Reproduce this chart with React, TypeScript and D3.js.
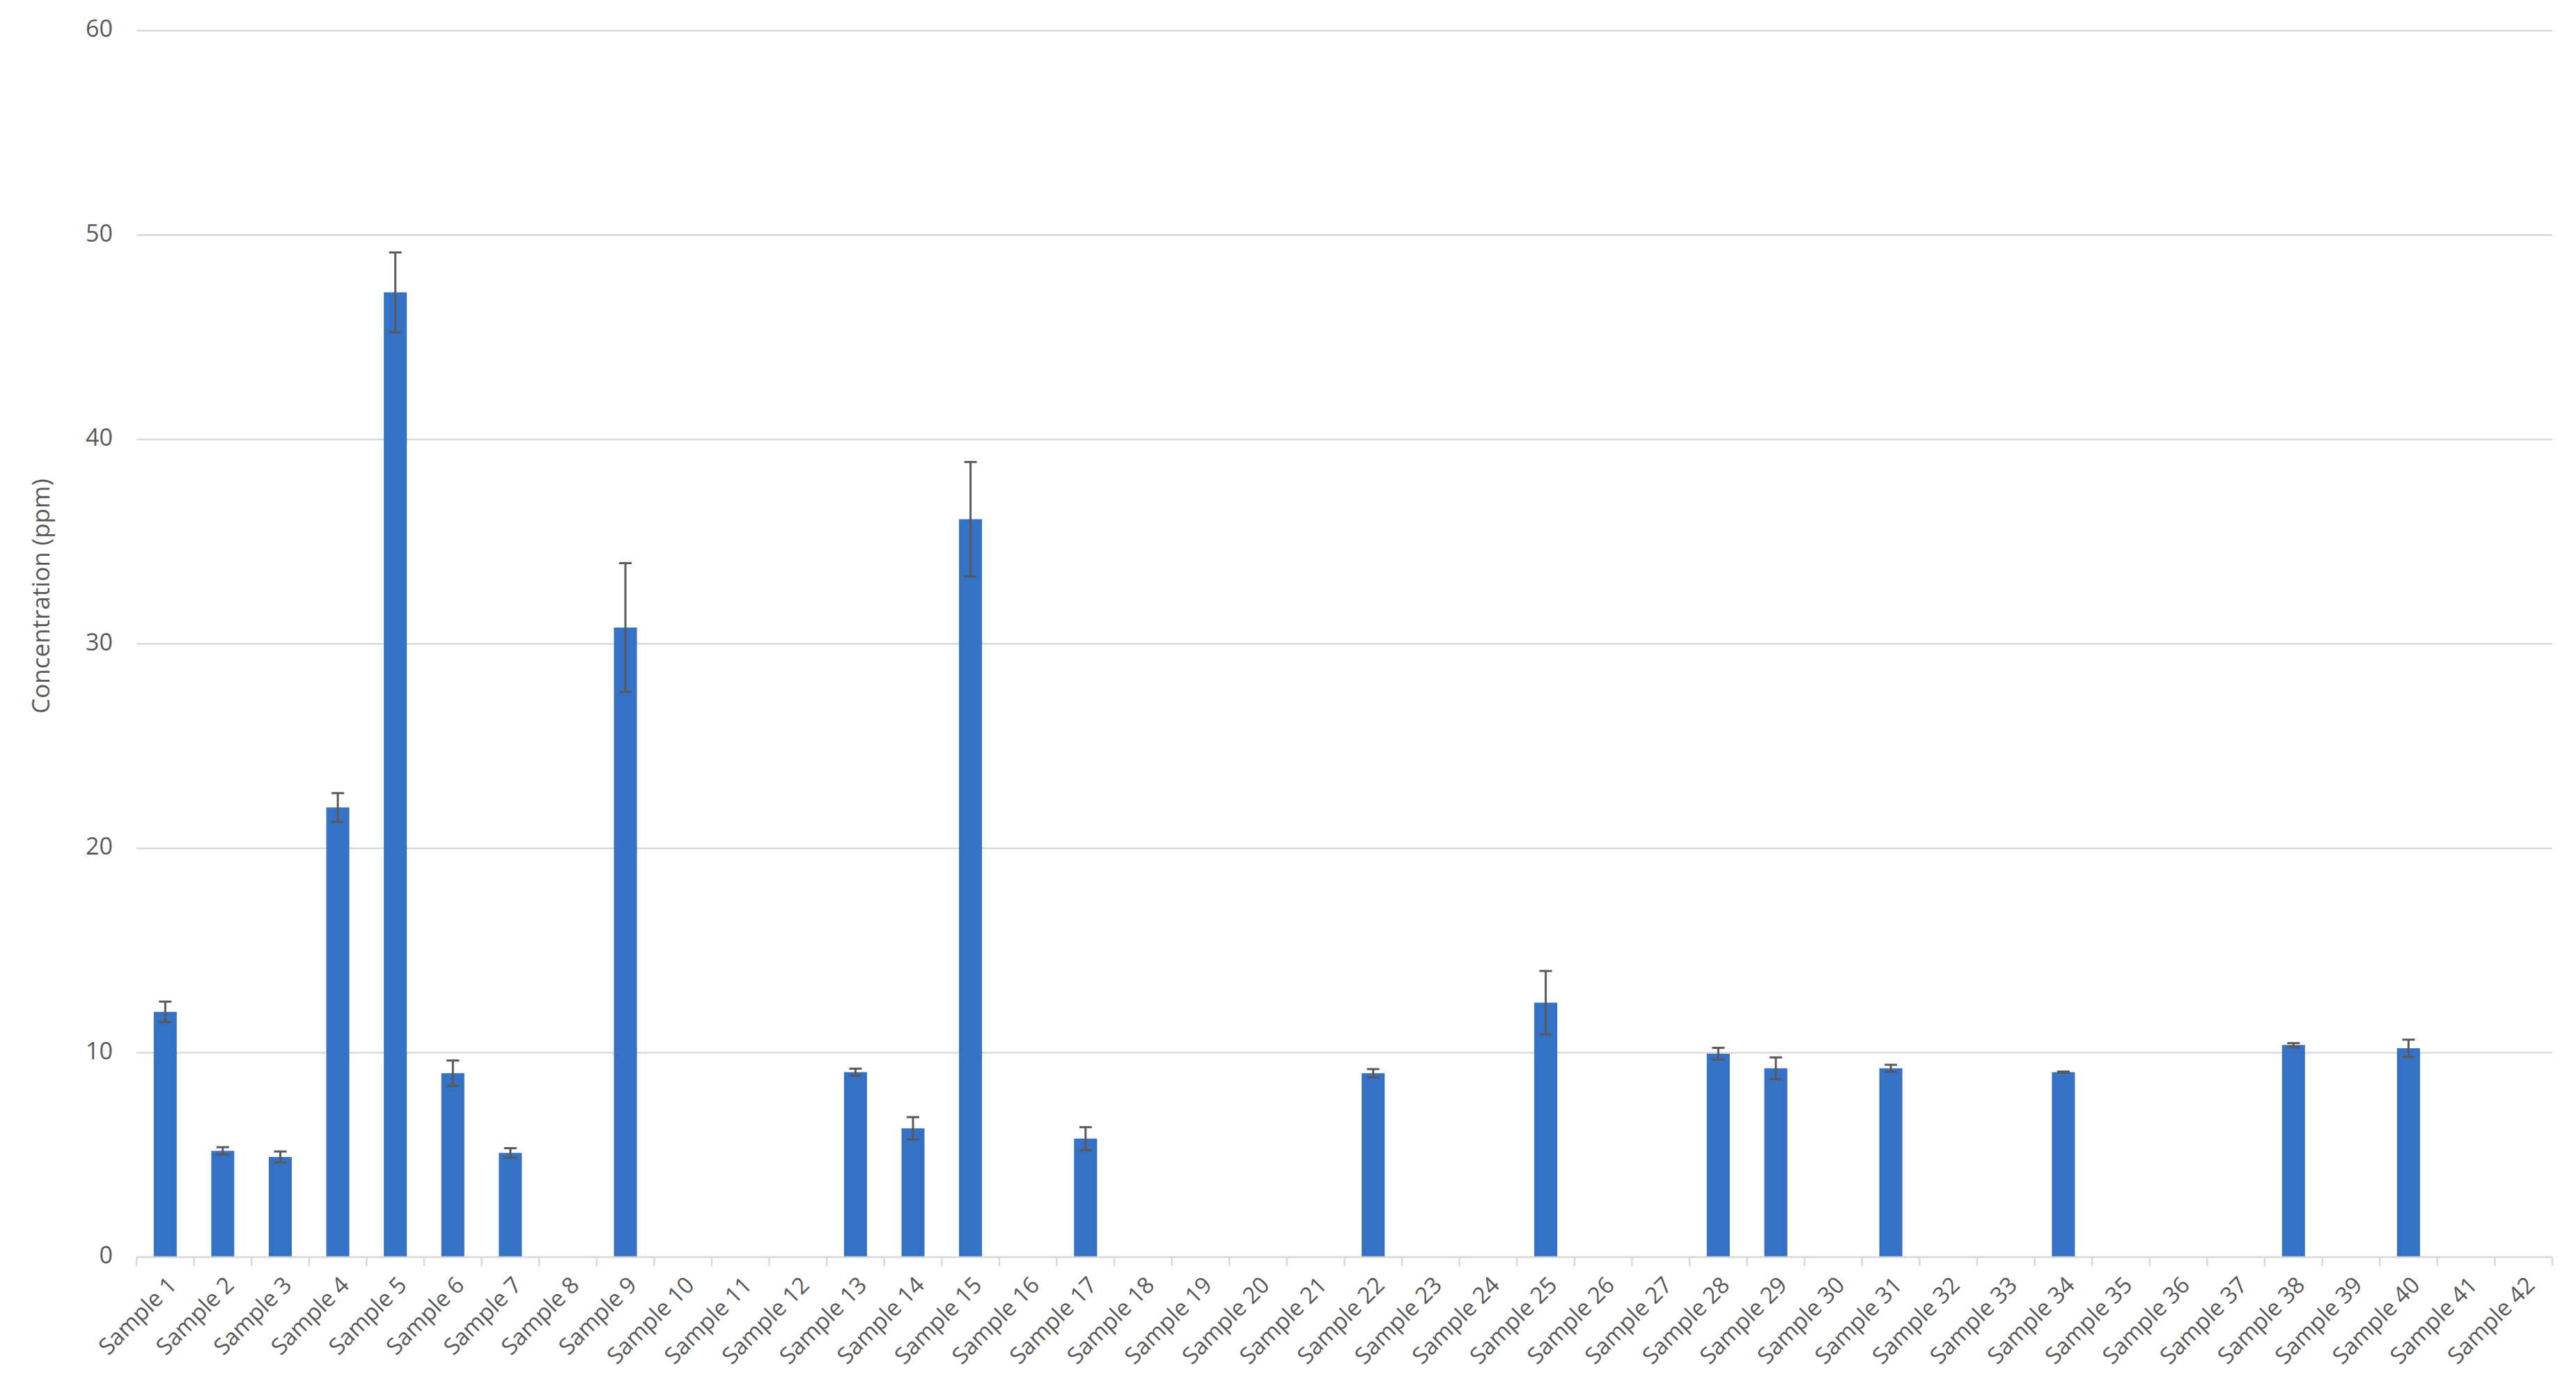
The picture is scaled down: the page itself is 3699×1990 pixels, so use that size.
import React from 'react';
import * as d3 from 'd3';

// sample names along the x axis
const samples: string[] = Array.from({ length: 42 }, (_, i) => `Sample ${i + 1}`);

// mean concentration (ppm), null where nothing was measured
const means: (number | null)[] = [
  12.0, 5.2, 4.9, 22.0, 47.2, 9.0, 5.1, null, 30.8, null,
  null, null, 9.05, 6.3, 36.1, null, 5.8, null, null, null,
  null, 9.0, null, null, 12.45, null, null, 9.95, 9.24, null,
  9.24, null, null, 9.05, null, null, null, 10.38, null, 10.22,
  null, null,
];

// error bar half-widths (ppm)
const errors: (number | null)[] = [
  0.5, 0.18, 0.27, 0.7, 1.95, 0.62, 0.23, null, 3.15, null,
  null, null, 0.17, 0.55, 2.8, null, 0.56, null, null, null,
  null, 0.2, null, null, 1.55, null, null, 0.29, 0.53, null,
  0.17, null, null, 0.03, null, null, null, 0.09, null, 0.42,
  null, null,
];

const yTicks: number[] = [0, 10, 20, 30, 40, 50, 60];
const yTitle = 'Concentration (ppm)';

const W = 3699;
const H = 1990;
const M = { top: 44, right: 34, bottom: 185, left: 196 };
const FONT = '"Open Sans", "Noto Sans", sans-serif';

export default function App() {
  const x = d3.scaleBand<string>()
    .domain(samples)
    .range([M.left, W - M.right])
    .paddingInner(0.6)
    .paddingOuter(0.3);
  const y = d3.scaleLinear().domain([0, 60]).range([H - M.bottom, M.top]);

  // band boundaries for the little ticks under the axis
  const edges = d3.range(samples.length + 1).map(i => M.left + i * ((W - M.right - M.left) / samples.length));
  const cap = 9;
  const bw = x.bandwidth();

  return (
    <svg width={W} height={H} style={{ position: 'absolute', left: 0, top: 0, background: '#fff' }}>
      {/* gridlines */}
      {yTicks.map(t => (
        <line key={t} x1={M.left} x2={W - M.right} y1={y(t)} y2={y(t)}
          stroke="#d9d9d9" strokeWidth={2.5} />
      ))}
      {yTicks.map(t => (
        <text key={'l' + t} x={M.left - 34} y={y(t)} textAnchor="end" dominantBaseline="middle"
          fontFamily={FONT} fontSize={34} fill="#595959">{t}</text>
      ))}
      <text transform={`translate(62,856) rotate(-90)`} textAnchor="middle"
        dominantBaseline="middle" fontFamily={FONT} fontSize={35} fill="#595959">{yTitle}</text>

      {/* bars */}
      {samples.map((s, i) => {
        const v = means[i];
        if (v == null) return null;
        return <rect key={s} x={x(s)} y={y(v)} width={bw} height={y(0) - y(v)} fill="#3571c4" />;
      })}

      {/* error bars */}
      {samples.map((s, i) => {
        const v = means[i];
        const e = errors[i];
        if (v == null || e == null) return null;
        const cx = (x(s) as number) + bw / 2;
        return (
          <g key={'e' + s} stroke="#595959" strokeWidth={3}>
            <line x1={cx} x2={cx} y1={y(v + e)} y2={y(v - e)} />
            <line x1={cx - cap} x2={cx + cap} y1={y(v + e)} y2={y(v + e)} />
            <line x1={cx - cap} x2={cx + cap} y1={y(v - e)} y2={y(v - e)} />
          </g>
        );
      })}

      {/* x axis */}
      <line x1={M.left} x2={W - M.right} y1={y(0)} y2={y(0)} stroke="#d9d9d9" strokeWidth={2.5} />
      {edges.map((ex, i) => (
        <line key={'t' + i} x1={ex} x2={ex} y1={y(0)} y2={y(0) + 13} stroke="#d9d9d9" strokeWidth={2.5} />
      ))}
      {samples.map(s => {
        const cx = (x(s) as number) + bw / 2;
        return (
          <text key={'x' + s} transform={`translate(${cx + 12},${y(0) + 36}) rotate(-45)`}
            textAnchor="end" dominantBaseline="middle" fontFamily={FONT} fontSize={33} fill="#595959">{s}</text>
        );
      })}
    </svg>
  );
}
